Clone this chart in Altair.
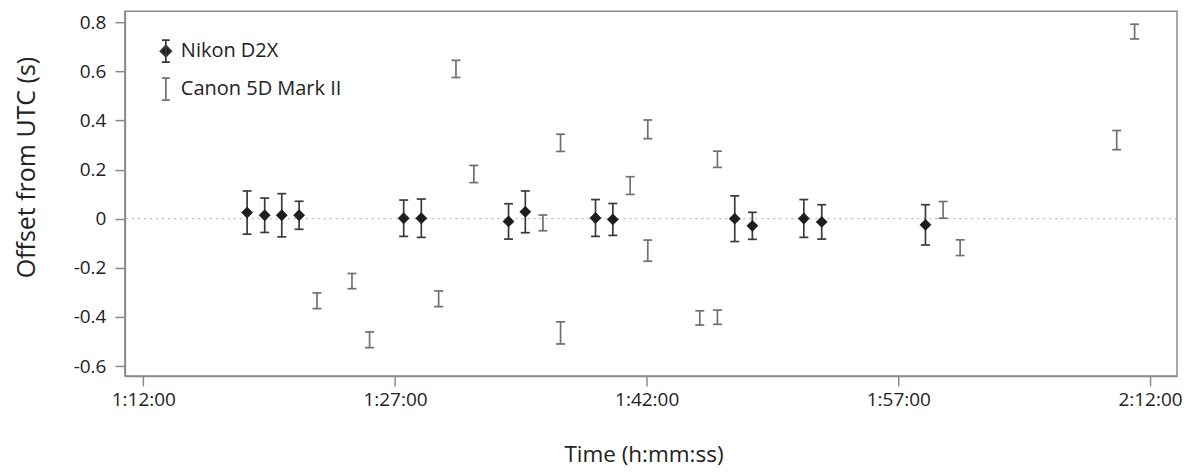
import altair as alt
import pandas as pd

# ---- data ----
nikon_time = ["1:18:11", "1:19:14", "1:20:15", "1:21:17", "1:27:31", "1:28:34",
              "1:33:46", "1:34:46", "1:38:57", "1:39:59", "1:47:15", "1:48:18",
              "1:51:22", "1:52:26", "1:58:37"]
nikon_offset = [0.025, 0.014, 0.014, 0.014, 0.002, 0.002, -0.011, 0.028, 0.003,
                -0.003, 0.000, -0.029, 0.001, -0.013, -0.025]
nikon_err = [0.088, 0.070, 0.088, 0.057, 0.074, 0.078, 0.072, 0.085, 0.075,
             0.065, 0.093, 0.055, 0.077, 0.070, 0.082]

canon_time = ["1:22:21", "1:24:26", "1:25:29", "1:29:36", "1:30:38", "1:31:42",
              "1:35:49", "1:36:52", "1:36:52", "1:41:01", "1:42:04", "1:42:04",
              "1:45:10", "1:46:13", "1:46:13", "1:59:40", "2:00:41", "2:10:01",
              "2:11:05"]
canon_offset = [-0.334, -0.254, -0.493, -0.326, 0.610, 0.182, -0.017, 0.309,
                -0.465, 0.135, 0.364, -0.130, -0.404, 0.242, -0.401, 0.036,
                -0.118, 0.320, 0.762]
canon_err = [0.032, 0.031, 0.032, 0.032, 0.035, 0.035, 0.032, 0.035, 0.045,
             0.036, 0.038, 0.043, 0.029, 0.033, 0.029, 0.034, 0.032, 0.039,
             0.030]

series_names = ["Nikon D2X", "Canon 5D Mark II"]
x_ticks = [72, 87, 102, 117, 132]          # minutes after midnight: 1:12:00 ... 2:12:00
y_ticks = [-0.6, -0.4, -0.2, 0, 0.2, 0.4, 0.6, 0.8]
x_domain = [70.9, 133.61]
y_domain = [-0.64, 0.845]


def to_minutes(s):
    h, m, sec = (int(p) for p in s.split(":"))
    return h * 60 + m + sec / 60.0


def frame(times, offs, errs, name):
    df = pd.DataFrame({"time": times, "v": offs, "err": errs})
    df["t"] = df["time"].map(to_minutes)
    df["lo"] = df["v"] - df["err"]
    df["hi"] = df["v"] + df["err"]
    df["series"] = name
    return df


nikon = frame(nikon_time, nikon_offset, nikon_err, series_names[0])
canon = frame(canon_time, canon_offset, canon_err, series_names[1])
zero = pd.DataFrame({"v": [0.0]})
legend_df = pd.DataFrame({"series": series_names, "t": [72.0, 72.0], "v": [0.0, 0.0]})

NIKON_COL = "#1e1e1e"
NIKON_BAR = "#3a3a3a"
CANON_COL = "#707070"
AXIS_COL = "#8a8a8a"

x_axis = alt.Axis(
    title="Time (h:mm:ss)", values=x_ticks,
    labelExpr="floor(datum.value/60) + ':' + (datum.value % 60 < 10 ? '0' : '') + (datum.value % 60) + ':00'",
    titleX=519, titleY=86, titleAlign="center", titleBaseline="alphabetic",
    grid=False,
)
y_axis = alt.Axis(
    title="Offset from UTC (s)", values=y_ticks,
    labelExpr="toString(datum.value)",
    titleX=-98, titleY=156, titleAngle=270, titleAlign="center", titleBaseline="middle",
    grid=False,
)

X = alt.X("t:Q", scale=alt.Scale(domain=x_domain, nice=False, zero=False), axis=x_axis)
Y = alt.Y("v:Q", scale=alt.Scale(domain=y_domain, nice=False, zero=False), axis=y_axis)

zero_line = alt.Chart(zero).mark_rule(color="#a8a8a8", strokeWidth=1, strokeDash=[2, 4]).encode(y="v:Q")


def bars(df, col, width):
    base = alt.Chart(df)
    rule = base.mark_rule(color=col, strokeWidth=width).encode(x="t:Q", y="lo:Q", y2="hi:Q")
    cap_lo = base.mark_tick(color=col, orient="horizontal", size=9, thickness=width, opacity=1).encode(x="t:Q", y="lo:Q")
    cap_hi = base.mark_tick(color=col, orient="horizontal", size=9, thickness=width, opacity=1).encode(x="t:Q", y="hi:Q")
    return [rule, cap_lo, cap_hi]


canon_layers = bars(canon, CANON_COL, 1.7)
nikon_layers = bars(nikon, NIKON_BAR, 1.7)

diamonds = alt.Chart(nikon).mark_point(
    shape="diamond", filled=True, size=140, color=NIKON_COL, opacity=1
).encode(x="t:Q", y="v:Q")

nikon_sym = "M-0.36,-1H0.36M0,-1V1M-0.36,1H0.36M0,-0.52L0.5,0L0,0.52L-0.5,0Z"
canon_sym = "M-0.36,-1H0.36M0,-1V1M-0.36,1H0.36"


def leg():
    return alt.Legend(title=None, orient="none", legendX=29, legendY=28,
                      symbolSize=484, rowPadding=8, labelOffset=3, labelLimit=0,
                      labelFontSize=20, labelColor="#222", symbolStrokeWidth=1.7)


legend_layer = alt.Chart(legend_df).transform_filter("false").mark_point(
    filled=True, opacity=1, strokeWidth=1.7
).encode(
    x="t:Q", y="v:Q",
    shape=alt.Shape("series:N", scale=alt.Scale(domain=series_names, range=[nikon_sym, canon_sym]), legend=leg()),
    fill=alt.Fill("series:N", scale=alt.Scale(domain=series_names, range=[NIKON_COL, CANON_COL]), legend=leg()),
    stroke=alt.Stroke("series:N", scale=alt.Scale(domain=series_names, range=[NIKON_BAR, CANON_COL]), legend=leg()),
)

axes_layer = alt.Chart(nikon).mark_point(opacity=0).encode(x=X, y=Y)

chart = alt.layer(
    axes_layer, zero_line, *canon_layers, *nikon_layers, diamonds, legend_layer
).properties(
    width=1053, height=365,
    autosize=alt.AutoSizeParams(type="none"),
    padding={"left": 117, "top": 3, "right": 10, "bottom": 100},
).configure(
    font="Open Sans",
).configure_view(
    stroke=AXIS_COL, strokeWidth=1.5,
).configure_axis(
    domainColor=AXIS_COL, domainWidth=1.5,
    tickColor=AXIS_COL, tickWidth=1.5, tickSize=10,
    labelFontSize=19, labelColor="#222", labelPadding=5,
    titleFontWeight="normal", titleColor="#222",
).configure_axisX(
    titleFontSize=22.5,
).configure_axisY(
    labelPadding=9, titleFontSize=25,
)

chart.save("out.html", embed_options={"renderer": "svg", "actions": False})
